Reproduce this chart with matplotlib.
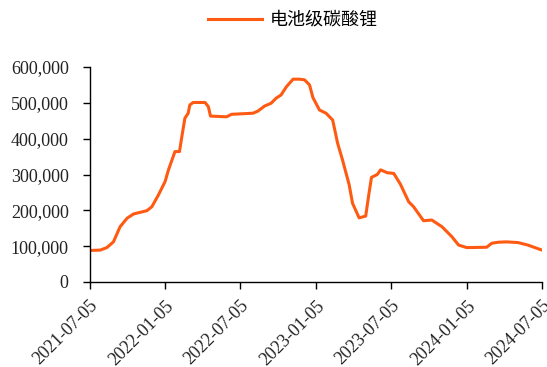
import matplotlib
matplotlib.use("Agg")
import matplotlib.pyplot as plt
import matplotlib.ticker as mticker
import pandas as pd

dates = ["2021-07-05", "2021-07-31", "2021-08-16", "2021-09-01", "2021-09-17", "2021-10-04",
         "2021-10-20", "2021-11-21", "2021-12-03", "2021-12-19", "2022-01-04", "2022-01-12",
         "2022-01-28", "2022-02-08", "2022-02-13", "2022-02-21", "2022-03-01", "2022-03-05",
         "2022-03-13", "2022-04-11", "2022-04-19", "2022-04-24", "2022-06-02", "2022-06-14",
         "2022-08-05", "2022-08-17", "2022-09-02", "2022-09-18", "2022-09-30", "2022-10-12",
         "2022-10-25", "2022-11-10", "2022-11-26", "2022-12-08", "2022-12-20", "2022-12-28",
         "2023-01-13", "2023-01-29", "2023-02-14", "2023-02-26", "2023-03-10", "2023-03-26",
         "2023-04-03", "2023-04-19", "2023-05-05", "2023-05-13", "2023-05-19", "2023-06-02",
         "2023-06-10", "2023-06-26", "2023-07-12", "2023-07-28", "2023-08-17", "2023-08-29",
         "2023-09-22", "2023-10-12", "2023-11-06", "2023-11-30", "2023-12-16", "2024-01-05",
         "2024-02-22", "2024-03-05", "2024-03-21", "2024-04-10", "2024-05-08", "2024-06-01",
         "2024-07-05"]
prices = [88000, 89000, 96000, 112000, 154000, 178000,
          190000, 199000, 210000, 243000, 280000, 312000,
          364000, 364000, 401000, 457000, 471000, 494000,
          501000, 501000, 489000, 463000, 461000, 468000,
          471000, 477000, 491000, 499000, 513000, 522000,
          545000, 566000, 566000, 564000, 550000, 515000,
          480000, 471000, 452000, 387000, 340000, 271000,
          220000, 179000, 184000, 248000, 292000, 300000,
          313000, 305000, 303000, 273000, 224000, 210000,
          171000, 173000, 154000, 126000, 103000, 96000,
          97000, 108000, 111000, 112000, 110000, 103000,
          89000]
series_name = "电池级碳酸锂"
xtick_labels = ["2021-07-05", "2022-01-05", "2022-07-05", "2023-01-05",
                "2023-07-05", "2024-01-05", "2024-07-05"]
yticks = [0, 100000, 200000, 300000, 400000, 500000, 600000]

x = pd.to_datetime(dates)
xt = pd.to_datetime(xtick_labels)

fig = plt.figure(figsize=(5.47, 3.67), dpi=100)
ax = fig.add_axes([89.5/547, 1-282/367, (542-89.5)/547, (282-67)/367])
line, = ax.plot(x, prices, color="#FF5A12", lw=2.2, label=series_name)

ax.set_xlim(xt[0], xt[-1])
ax.set_ylim(0, 600000)
ax.set_yticks(yticks)
ax.yaxis.set_major_formatter(mticker.FuncFormatter(lambda v, p: f"{int(v):,}"))
ax.set_xticks(xt)
ax.set_xticklabels(xtick_labels, rotation=45, ha="right", rotation_mode="anchor")

for s in ["top", "right"]:
    ax.spines[s].set_visible(False)
for s in ["left", "bottom"]:
    ax.spines[s].set_linewidth(1.0)
    ax.spines[s].set_color("black")
ax.tick_params(direction="out", length=5, width=1.0, colors="black", labelsize=13)
for lab in ax.get_xticklabels() + ax.get_yticklabels():
    lab.set_fontfamily("Liberation Serif")
    lab.set_color("#222222")
ax.tick_params(axis="y", pad=10)
ax.tick_params(axis="x", pad=6)

fig.legend(handles=[line], loc="center", bbox_to_anchor=(293/547, 1-20/367), frameon=False,
           handlelength=3.0, handletextpad=0.4,
           prop={"family": ["Noto Sans CJK SC", "DejaVu Sans"], "size": 13})

fig.savefig("out.png", dpi=100)
